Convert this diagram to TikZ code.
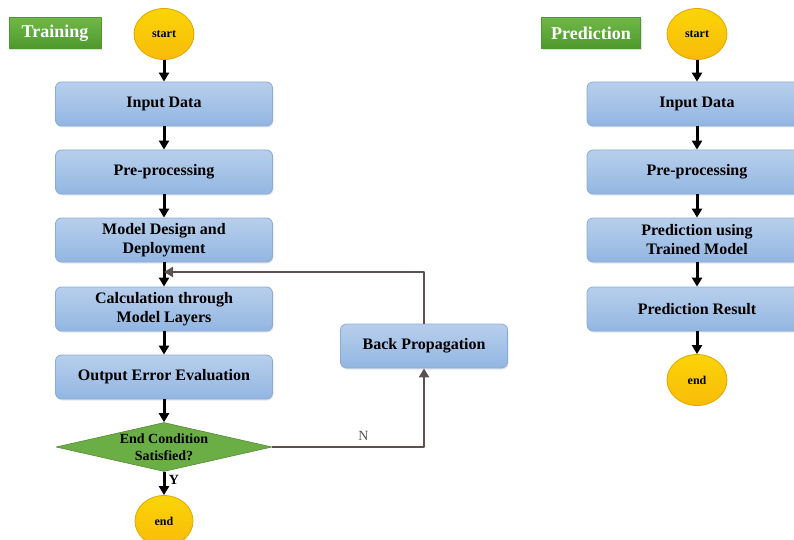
\documentclass[tikz,border=0pt]{standalone}
\usepackage{fontspec}
\setmainfont{Liberation Serif}
\usetikzlibrary{arrows.meta,shapes.geometric,shadows}
\definecolor{boxtop}{RGB}{184,207,236}
\definecolor{boxbot}{RGB}{146,182,226}
\definecolor{boxedge}{RGB}{136,172,218}
\definecolor{termfill}{RGB}{248,194,10}
\definecolor{termedge}{RGB}{228,166,0}
\definecolor{condgreen}{RGB}{108,174,70}
\definecolor{tagtop}{RGB}{112,184,72}
\definecolor{tagbot}{RGB}{78,152,44}
\definecolor{loopgray}{RGB}{92,80,80}

\begin{document}
\begin{tikzpicture}[x=1pt,y=-1pt,line join=round,
  stepbox/.style={draw=boxedge,line width=0.8pt,rounded corners=6pt,top color=boxtop,bottom color=boxbot,
    minimum width=217pt,minimum height=44pt,align=center,inner sep=2pt,
    font=\fontsize{16}{19}\selectfont\bfseries,drop shadow={opacity=0.2,shadow xshift=1pt,shadow yshift=-1.5pt}},
  term/.style={ellipse,draw=termedge,line width=0.8pt,top color=termfill!70!yellow,bottom color=termfill!90!orange,
    minimum width=60pt,minimum height=51pt,inner sep=0pt,font=\fontsize{12}{14}\selectfont\bfseries},
  cond/.style={diamond,aspect=4,draw=condgreen!80!black,line width=0.6pt,fill=condgreen,inner sep=0pt,
    minimum width=216pt,minimum height=48pt,align=center,font=\fontsize{14}{17}\selectfont\bfseries},
  tag/.style={draw=tagbot,top color=tagtop,bottom color=tagbot,text=white,minimum height=31pt,inner sep=4pt,
    font=\fontsize{18}{20}\selectfont\bfseries,drop shadow={opacity=0.25,shadow xshift=1pt,shadow yshift=-1.5pt}},
  flow/.style={-{Triangle[length=9pt,width=10pt]},line width=3pt,black},
  back/.style={-{Triangle[length=9pt,width=10pt]},line width=2.8pt,loopgray},
  yn/.style={font=\fontsize{14}{16}\selectfont\bfseries}]
\useasboundingbox (0,0) rectangle (794,540);
% training
\node[tag,minimum width=92pt] (ttag) at (55,33) {Training};
\node[term] (tstart) at (164,34) {start};
\node[stepbox] (tinput) at (164,104) {Input Data};
\node[stepbox] (tpre) at (164,172) {Pre-processing};
\node[stepbox] (tdesign) at (164,240) {Model Design and\\Deployment};
\node[stepbox] (tcalc) at (164,309) {Calculation through\\Model Layers};
\node[stepbox] (tout) at (164,377) {Output Error Evaluation};
\node[cond] (tcond) at (164,447) {End Condition\\Satisfied?};
\node[term,minimum width=58pt] (tend) at (164,521) {end};
\node[stepbox,minimum width=167pt] (tback) at (424,346) {Back Propagation};
\coordinate (tjoin) at (164,272);
\draw[flow] (tstart) -- (tinput);
\draw[flow] (tinput) -- (tpre);
\draw[flow] (tpre) -- (tdesign);
\draw[flow] (tdesign) -- (tcalc);
\draw[flow] (tcalc) -- (tout);
\draw[flow] (tout) -- (tcond);
\draw[flow] (tcond) -- node[yn,right,pos=0.35] {Y} (tend);
\draw[back] (tcond.east) -| node[yn,pos=0.3,above=2pt,font=\fontsize{14}{16}\selectfont] {N} (tback.south);
\draw[back] (tback.north) |- (tjoin);
% prediction
\node[tag,minimum width=99pt] (ptag) at (591,33) {Prediction};
\node[term] (pstart) at (697,34) {start};
\node[stepbox,minimum width=220pt] (pinput) at (697,104) {Input Data};
\node[stepbox,minimum width=220pt] (ppre) at (697,172) {Pre-processing};
\node[stepbox,minimum width=220pt] (pmodel) at (697,240) {Prediction using\\Trained Model};
\node[stepbox,minimum width=220pt] (presult) at (697,309) {Prediction Result};
\node[term] (pend) at (697,380) {end};
\draw[flow] (pstart) -- (pinput);
\draw[flow] (pinput) -- (ppre);
\draw[flow] (ppre) -- (pmodel);
\draw[flow] (pmodel) -- (presult);
\draw[flow] (presult) -- (pend);
\end{tikzpicture}
\end{document}
